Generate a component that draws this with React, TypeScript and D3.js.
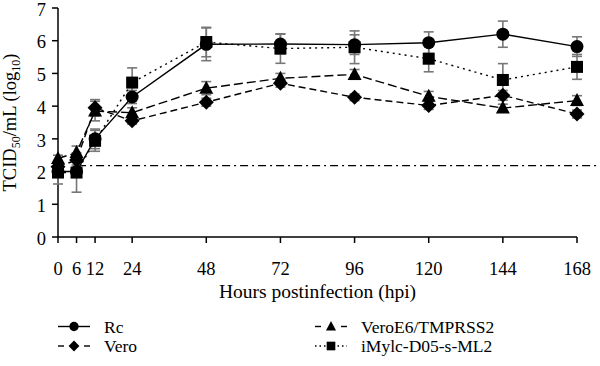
import * as d3 from "d3";

const width = 600;
const height = 366;

const hours = [0, 6, 12, 24, 48, 72, 96, 120, 144, 168];
const yTicks = [0, 1, 2, 3, 4, 5, 6, 7];

const rc = [2.0, 2.0, 3.0, 4.28, 5.89, 5.9, 5.88, 5.94, 6.2, 5.82];
const rcErr = [0.1, 0.1, 0.3, 0.2, 0.5, 0.3, 0.3, 0.33, 0.4, 0.3];

const vero = [2.15, 2.35, 3.95, 3.55, 4.12, 4.7, 4.27, 4.02, 4.33, 3.76];
const veroErr = [0.1, 0.15, 0.25, 0.1, 0.12, 0.12, 0.1, 0.12, 0.15, 0.12];

const veroE6 = [2.4, 2.58, 3.85, 3.8, 4.55, 4.85, 4.97, 4.3, 3.94, 4.17];
const veroE6Err = [0.1, 0.2, 0.3, 0.15, 0.2, 0.15, 0.15, 0.15, 0.12, 0.15];

const imylc = [1.97, 1.97, 2.94, 4.72, 5.96, 5.76, 5.8, 5.45, 4.8, 5.2];
const imylcErr = [0.35, 0.6, 0.32, 0.45, 0.45, 0.45, 0.5, 0.4, 0.5, 0.38];

const detectionLimit = 2.18;

const series = [
  { name: "Rc", values: rc, err: rcErr, shape: "circle", dash: "none" },
  { name: "Vero", values: vero, err: veroErr, shape: "diamond", dash: "7,4" },
  { name: "VeroE6/TMPRSS2", values: veroE6, err: veroE6Err, shape: "triangle", dash: "9,4" },
  { name: "iMylc-D05-s-ML2", values: imylc, err: imylcErr, shape: "square", dash: "2,4" },
];

const margin = { left: 58, right: 23, top: 8, bottom: 129 };

const x = d3.scaleLinear().domain([0, 168]).range([margin.left, width - margin.right]);
const y = d3.scaleLinear().domain([0, 7]).range([height - margin.bottom, margin.top]);

function Marker({ shape, cx, cy, s = 1 }: { shape: string; cx: number; cy: number; s?: number }) {
  if (shape === "circle") return <circle cx={cx} cy={cy} r={6.5 * s} fill="#000" />;
  if (shape === "square")
    return <rect x={cx - 6 * s} y={cy - 6 * s} width={12 * s} height={12 * s} fill="#000" />;
  if (shape === "triangle")
    return (
      <path
        d={`M${cx},${cy - 7.5 * s}L${cx + 7 * s},${cy + 5.5 * s}L${cx - 7 * s},${cy + 5.5 * s}Z`}
        fill="#000"
      />
    );
  return (
    <path
      d={`M${cx},${cy - 7.5 * s}L${cx + 7.5 * s},${cy}L${cx},${cy + 7.5 * s}L${cx - 7.5 * s},${cy}Z`}
      fill="#000"
    />
  );
}

function App() {
  const line = d3
    .line<number>()
    .x((d, i) => x(hours[i]))
    .y((d) => y(d));

  const font = "'Liberation Serif', 'Times New Roman', serif";

  return (
    <svg
      width={width}
      height={height}
      style={{ position: "absolute", left: 0, top: 0, background: "#fff" }}
      fontFamily={font}
    >
      {/* detection limit */}
      <line
        x1={x(6.5)}
        x2={598}
        y1={y(detectionLimit)}
        y2={y(detectionLimit)}
        stroke="#000"
        strokeWidth={1.3}
        strokeDasharray="8,4,2,4"
      />

      {/* axes */}
      <line x1={x(0)} x2={x(0)} y1={y(0)} y2={y(7)} stroke="#000" strokeWidth={1.5} />
      <line x1={x(0)} x2={x(168)} y1={y(0)} y2={y(0)} stroke="#000" strokeWidth={1.5} />
      {yTicks.map((t) => (
        <g key={"y" + t}>
          <line x1={x(0) - 6} x2={x(0)} y1={y(t)} y2={y(t)} stroke="#000" strokeWidth={1.5} />
          <text x={x(0) - 12} y={y(t)} dy="0.42em" textAnchor="end" fontSize={18.5}>
            {t}
          </text>
        </g>
      ))}
      {hours.map((t) => (
        <g key={"x" + t}>
          <line x1={x(t)} x2={x(t)} y1={y(0)} y2={y(0) + 6} stroke="#000" strokeWidth={1.5} />
          <text x={x(t)} y={y(0) + 38} textAnchor="middle" fontSize={18.5}>
            {t}
          </text>
        </g>
      ))}
      <text x={(x(0) + x(168)) / 2} y={298} textAnchor="middle" fontSize={19.5}>
        Hours postinfection (hpi)
      </text>
      <text transform={`translate(16,${(y(0) + y(7)) / 2}) rotate(-90)`} textAnchor="middle" fontSize={18.5}>
        TCID
        <tspan fontSize={12} dy={4}>50</tspan>
        <tspan dy={-4}>/mL (log</tspan>
        <tspan fontSize={12} dy={4}>10</tspan>
        <tspan dy={-4}>)</tspan>
      </text>

      {/* error bars */}
      {series.map((s) =>
        s.values.map((v, i) => (
          <g key={s.name + "e" + i} stroke="#777" strokeWidth={1.6}>
            <line x1={x(hours[i])} x2={x(hours[i])} y1={y(v + s.err[i])} y2={y(v - s.err[i])} />
            <line x1={x(hours[i]) - 5} x2={x(hours[i]) + 5} y1={y(v + s.err[i])} y2={y(v + s.err[i])} />
            <line x1={x(hours[i]) - 5} x2={x(hours[i]) + 5} y1={y(v - s.err[i])} y2={y(v - s.err[i])} />
          </g>
        ))
      )}

      {/* lines */}
      {series.map((s) => (
        <path
          key={s.name + "l"}
          d={line(s.values) || ""}
          fill="none"
          stroke="#000"
          strokeWidth={1.4}
          strokeDasharray={s.dash}
        />
      ))}

      {/* markers */}
      {series.map((s) =>
        s.values.map((v, i) => <Marker key={s.name + "m" + i} shape={s.shape} cx={x(hours[i])} cy={y(v)} />)
      )}

      {/* legend */}
      {series.map((s, i) => {
        const lx = i < 2 ? 58 : 315;
        const ly = i === 0 || i === 2 ? 326.5 : 346;
        return (
          <g key={s.name + "leg"}>
            {s.dash === "none" ? (
              <line x1={lx} x2={lx + 32} y1={ly} y2={ly} stroke="#000" strokeWidth={1.4} />
            ) : s.dash === "2,4" ? (
              <line x1={lx} x2={lx + 32} y1={ly} y2={ly} stroke="#000" strokeWidth={1.4} strokeDasharray="1.5,3" />
            ) : (
              <g stroke="#000" strokeWidth={1.4}>
                <line x1={lx} x2={lx + 6} y1={ly} y2={ly} />
                <line x1={lx + 26} x2={lx + 32} y1={ly} y2={ly} />
              </g>
            )}
            <Marker shape={s.shape} cx={lx + 16} cy={ly} s={0.72} />
            <text x={lx + 46} y={ly} dy="0.35em" fontSize={17.5}>
              {s.name}
            </text>
          </g>
        );
      })}
    </svg>
  );
}

export default App;
